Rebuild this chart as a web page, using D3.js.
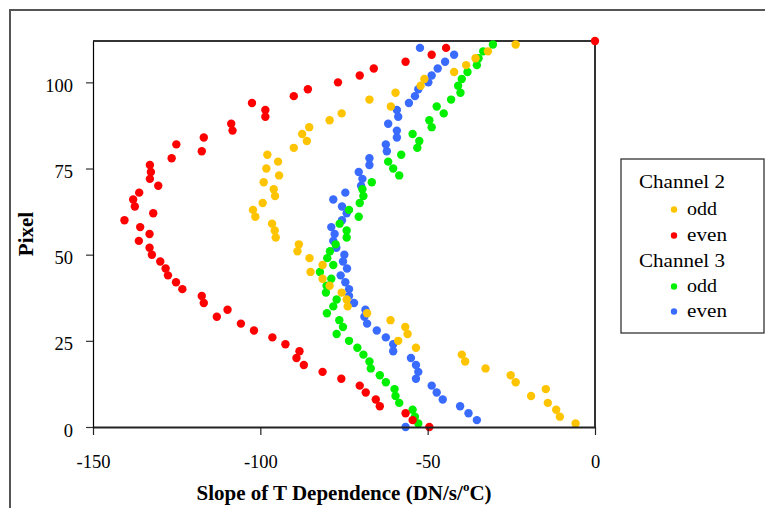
<!DOCTYPE html>
<html>
<head>
<meta charset="utf-8">
<script src="https://cdn.jsdelivr.net/npm/d3@7/dist/d3.min.js"></script>
<style>
  html, body { margin: 0; padding: 0; background: #fff; }
  svg { display: block; }
  svg text { font-family: "Liberation Serif", "Tinos", "Times New Roman", Times, "DejaVu Serif", serif; }
</style>
</head>
<body>
<svg id="chart" width="765" height="508"></svg>
<script>
// ---- data ----
const pixelsOdd = [1,3,5,7,9,11,13,15,17,19,21,23,25,27,29,31,33,35,37,39,41,43,45,47,49,51,53,55,57,59,61,63,65,67,69,71,73,75,77,79,81,83,85,87,89,91,93,95,97,99,101,103,105,107,109,111];
const pixelsEven = [0,2,4,6,8,10,12,14,16,18,20,22,24,26,28,30,32,34,36,38,40,42,44,46,48,50,52,54,56,58,60,62,64,66,68,70,72,74,76,78,80,82,84,86,88,90,92,94,96,98,100,102,104,106,108,110,112];

const ch2Odd = [-5.8,-10.5,-11.6,-14.1,-19.1,-14.7,-23.7,-25.2,-32.7,-38.8,-39.8,-53.5,-58.8,-56,-56.7,-61.1,-68.1,-73.9,-74.2,-75.7,-79.3,-81.4,-85,-81.4,-85.3,-88.9,-88.5,-95.4,-95.7,-96.5,-101.5,-102.2,-99.3,-95.6,-96,-99,-94.4,-98.2,-94.7,-97.9,-90,-86.1,-87.5,-85.4,-79.3,-75.7,-61,-67.4,-59.6,-52.1,-51,-42.1,-38.5,-35.7,-32,-23.7];
const ch2Even = [-49.5,-54.5,-56.6,-64.3,-65.5,-68.5,-70.3,-75.8,-81.4,-87,-89.2,-88.3,-92.5,-96.4,-101.9,-105.8,-113,-109.8,-116.9,-117.5,-123.3,-125.2,-127.6,-128.3,-129.9,-132.4,-133.1,-136.3,-133.1,-135.9,-140.6,-132,-137.5,-138,-136.2,-130.5,-133,-132.7,-133,-126.5,-117.5,-125.1,-116.9,-108.3,-108.7,-98.5,-98.5,-102.5,-90,-85.8,-76.8,-70.3,-66.1,-56.6,-48.8,-44.5,0];
const ch3Odd = [-52.8,-53.8,-54.5,-58.5,-59.6,-59.9,-62.5,-64.3,-67,-67.4,-69.2,-71,-73.5,-77.2,-75.3,-76.4,-80.1,-78.2,-77.2,-80.4,-80.2,-78.8,-82.2,-78.2,-80,-79.2,-77.5,-74.2,-74.2,-76.3,-70.6,-73.5,-70.3,-69.2,-69.5,-66.7,-58.5,-60.3,-61.8,-57.9,-53.1,-52.5,-54.5,-48.8,-49.5,-45.2,-47.3,-43,-40.2,-40.9,-39.8,-38.1,-35.3,-34.8,-33.4,-30.5];
const ch3Even = [-56.6,-35.3,-37.8,-40.3,-45.5,-47.3,-48.8,-53.5,-52.8,-53.5,-55,-60.3,-60.3,-62.5,-65.2,-68.1,-68.9,-68.6,-72,-73.5,-73.5,-74.6,-76,-74.1,-75.3,-74.9,-77.3,-78.2,-77.8,-78.8,-75.6,-74.2,-75.6,-78.2,-74.6,-69.9,-69.5,-70.6,-67.4,-67.4,-62.2,-62.5,-59.2,-59.2,-61.8,-58.8,-59.2,-55.6,-53.8,-52.8,-49.8,-48.8,-47,-44.8,-42.1,-52.3];

const xTicks = [-150, -100, -50, 0];
const yTicks = [0, 25, 50, 75, 100];
const xTitle = "Slope of T Dependence (DN/s/";
const yTitle = "Pixel";

const series = [
  { name: "even", group: "Channel 3", pixels: pixelsEven, values: ch3Even, color: "#3a6bff" },
  { name: "odd",  group: "Channel 3", pixels: pixelsOdd,  values: ch3Odd,  color: "#00f000" },
  { name: "even", group: "Channel 2", pixels: pixelsEven, values: ch2Even, color: "#ff0000" },
  { name: "odd",  group: "Channel 2", pixels: pixelsOdd,  values: ch2Odd,  color: "#ffc400" }
];

const FONT = '"Liberation Serif", "Tinos", "Times New Roman", Times, "DejaVu Serif", serif';

// ---- layout ----
const svg = d3.select("#chart");
const L = 93, R = 595, T = 41, B = 427;
const x = d3.scaleLinear().domain([-150, 0]).range([L, R]);
const y = d3.scaleLinear().domain([0, 112]).range([B, T]);

// outer frame
svg.append("rect").attr("x", 10).attr("y", 10).attr("width", 800).attr("height", 600)
  .attr("fill", "none").attr("stroke", "#555").attr("stroke-width", 2);

// plot border (top & right)
svg.append("path")
  .attr("d", `M${L},${T}H${R}V${B}`)
  .attr("fill", "none").attr("stroke", "#333").attr("stroke-width", 2);

// points
series.forEach(s => {
  svg.append("g").selectAll("circle")
    .data(s.values.map((v, i) => ({ v, p: s.pixels[i] })))
    .join("circle")
    .attr("cx", d => x(d.v))
    .attr("cy", d => y(d.p))
    .attr("r", 4.2)
    .attr("fill", s.color);
});

// axes
const xAxis = svg.append("g").attr("transform", `translate(0,${B})`)
  .call(d3.axisBottom(x).tickValues(xTicks).tickSize(8).tickSizeOuter(0).tickFormat(d => String(d)));
xAxis.attr("font-family", null);
xAxis.select(".domain").attr("stroke", "#222").attr("stroke-width", 2);
xAxis.selectAll(".tick line").attr("stroke", "#222").attr("stroke-width", 1.2);
xAxis.selectAll("text").attr("y", 41).attr("dy", 0)
  .attr("font-size", 18.5).attr("fill", "#000")
  .style("font-family", FONT);

const yAxis = svg.append("g").attr("transform", `translate(${L},0)`)
  .call(d3.axisLeft(y).tickValues(yTicks).tickSize(7).tickSizeOuter(0).tickFormat(d => String(d)));
yAxis.attr("font-family", null);
yAxis.select(".domain").attr("stroke", "#000").attr("stroke-width", 1.2);
yAxis.selectAll(".tick line").attr("stroke", "#333").attr("stroke-width", 1.2);
yAxis.selectAll("text").attr("x", -20).attr("dy", 9)
  .attr("font-size", 18.5).attr("fill", "#000")
  .style("font-family", FONT);

// axis titles
const xt = svg.append("text").attr("x", (L + R) / 2).attr("y", 500)
  .attr("text-anchor", "middle").attr("font-size", 21).attr("font-weight", "bold")
  .style("font-family", FONT);
xt.append("tspan").text(xTitle);
xt.append("tspan").attr("font-size", 13).attr("dy", -9).text("o");
xt.append("tspan").attr("dy", 9).text("C)");

svg.append("text")
  .attr("transform", `translate(33,${(T + B) / 2}) rotate(-90)`)
  .attr("text-anchor", "middle").attr("font-size", 21).attr("font-weight", "bold")
  .style("font-family", FONT)
  .text(yTitle);

// legend
const lg = svg.append("g");
lg.append("rect").attr("x", 621).attr("y", 159).attr("width", 143).attr("height", 174)
  .attr("fill", "#fff").attr("stroke", "#333").attr("stroke-width", 1.3);
const legendItems = [
  { type: "head", label: "Channel 2", yb: 188, w: 86 },
  { type: "item", label: "odd", yb: 215, w: 30, color: series[3].color },
  { type: "item", label: "even", yb: 241, w: 40, color: series[2].color },
  { type: "head", label: "Channel 3", yb: 267, w: 86 },
  { type: "item", label: "odd", yb: 292, w: 30, color: series[1].color },
  { type: "item", label: "even", yb: 317, w: 40, color: series[0].color }
];
legendItems.forEach(it => {
  const tx = it.type === "head" ? 639 : 687;
  lg.append("text").attr("x", tx).attr("y", it.yb)
    .attr("font-size", 18.5)
    .style("font-family", FONT)
    .attr("textLength", it.w).attr("lengthAdjust", "spacingAndGlyphs")
    .text(it.label);
  if (it.type === "item") {
    lg.append("circle").attr("cx", 674).attr("cy", it.yb - 5.5).attr("r", 3.2).attr("fill", it.color);
  }
});
</script>
</body>
</html>
